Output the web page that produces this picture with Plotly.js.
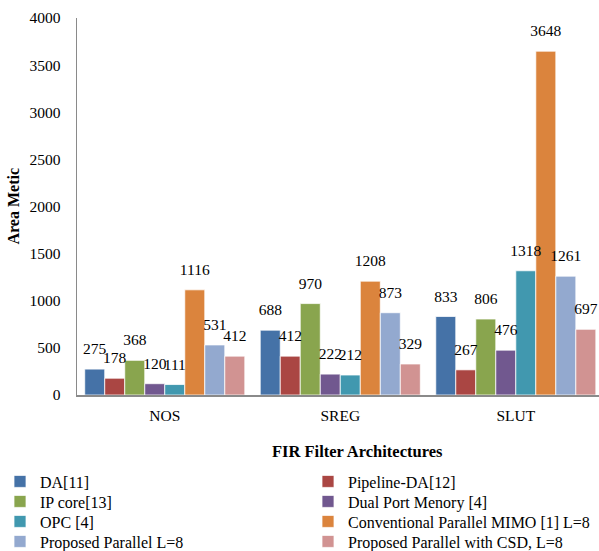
<!DOCTYPE html>
<html>
<head>
<meta charset="utf-8">
<script src="https://cdn.plot.ly/plotly-3.0.1.min.js"></script>
<style>
  html, body { margin: 0; padding: 0; background: #ffffff; }
  #chart { width: 599px; height: 551px; }
</style>
</head>
<body>
<div id="chart"></div>
<script>
// Area of FIR filter architectures, grouped by design
const categories = ['NOS', 'SREG', 'SLUT'];

const seriesNames = [
  'DA[11]',
  'Pipeline-DA[12]',
  'IP core[13]',
  'Dual Port Menory [4]',
  'OPC [4]',
  'Conventional Parallel MIMO [1] L=8',
  'Proposed Parallel L=8',
  'Proposed Parallel with CSD, L=8'
];

const daValues               = [275, 688, 833];
const pipelineDaValues       = [178, 412, 267];
const ipCoreValues           = [368, 970, 806];
const dualPortValues         = [120, 222, 476];
const opcValues              = [111, 212, 1318];
const convParallelValues     = [1116, 1208, 3648];
const proposedParallelValues = [531, 873, 1261];
const proposedCsdValues      = [412, 329, 697];

const yTickValues = [0, 500, 1000, 1500, 2000, 2500, 3000, 3500, 4000];

const seriesValues = [
  daValues, pipelineDaValues, ipCoreValues, dualPortValues,
  opcValues, convParallelValues, proposedParallelValues, proposedCsdValues
];

const seriesColors = [
  '#4572A7', '#AA4643', '#89A54E', '#71588F',
  '#4198AF', '#DB843D', '#93A9CF', '#D19392'
];

const FONT = '"Times New Roman", "Liberation Serif", Times, serif';
const BAR_GAP = 0.088;

// one single-entry legend per series, laid out as a two-column key
const legendKeys = seriesNames.map((_, i) => i === 0 ? 'legend' : 'legend' + (i + 1));
const legendColX = [0, 308 / 599];
const legendRowY = [481.5, 501.5, 521.5, 541.5].map(py => 1 - py / 551);

const barTraces = seriesNames.map((name, i) => ({
  type: 'bar',
  name: name,
  x: categories,
  y: seriesValues[i],
  marker: {
    color: seriesColors[i],
    line: { color: 'rgba(255,255,255,0.75)', width: 1 }
  },
  legend: legendKeys[i],
  hoverinfo: 'x+y+name'
}));

// value labels: grouped scatter points share the bars' slots; the hidden
// marker pads each label up above the top of its bar
const labelTraces = seriesNames.map((name, i) => ({
  type: 'scatter',
  mode: 'markers+text',
  name: name,
  x: categories,
  y: seriesValues[i],
  text: seriesValues[i].map(String),
  textposition: 'top center',
  textfont: { family: FONT, size: 15.5, color: '#000000' },
  marker: { size: 16, opacity: 0, color: seriesColors[i] },
  cliponaxis: false,
  showlegend: false,
  hoverinfo: 'skip'
}));

const layout = {
  width: 599,
  height: 551,
  margin: { l: 77, r: 0, t: 18, b: 156, autoexpand: false },
  paper_bgcolor: '#ffffff',
  plot_bgcolor: '#ffffff',
  font: { family: FONT, size: 15.5, color: '#000000' },
  barmode: 'group',
  bargap: BAR_GAP,
  bargroupgap: 0,
  scattermode: 'group',
  scattergap: BAR_GAP,
  xaxis: {
    type: 'category',
    range: [-0.5, 2.474],
    showline: true,
    linecolor: '#8a8a8a',
    linewidth: 2,
    showgrid: false,
    zeroline: false,
    ticks: '',
    ticklabelstandoff: 5,
    tickfont: { family: FONT, size: 15.5, color: '#000000' }
  },
  yaxis: {
    range: [0, 4000],
    tickvals: yTickValues,
    ticktext: yTickValues.map(String),
    showline: true,
    linecolor: '#8a8a8a',
    linewidth: 1.5,
    showgrid: false,
    zeroline: false,
    ticks: '',
    ticklabelstandoff: 12,
    tickfont: { family: FONT, size: 15.5, color: '#000000' }
  },
  annotations: [
    {
      text: '<b>FIR Filter Architectures</b>',
      xref: 'paper', yref: 'paper',
      x: (357 - 77) / 522, y: (395 - 451) / 377,
      xanchor: 'center', yanchor: 'middle',
      showarrow: false,
      font: { family: FONT, size: 16.5, color: '#000000' }
    },
    {
      text: '<b>Area Metic</b>',
      xref: 'paper', yref: 'paper',
      x: (13 - 77) / 522, y: 0.5,
      xanchor: 'center', yanchor: 'middle',
      textangle: -90,
      showarrow: false,
      font: { family: FONT, size: 16, color: '#000000' }
    }
  ],
  showlegend: true
};

legendKeys.forEach((key, i) => {
  layout[key] = {
    xref: 'container', yref: 'container',
    x: legendColX[i % 2],
    y: legendRowY[Math.floor(i / 2)],
    xanchor: 'left', yanchor: 'middle',
    bgcolor: 'rgba(0,0,0,0)',
    borderwidth: 0,
    font: { family: FONT, size: 16, color: '#000000' }
  };
});

Plotly.newPlot('chart', barTraces.concat(labelTraces), layout,
  { displayModeBar: false, staticPlot: true });
</script>
</body>
</html>
